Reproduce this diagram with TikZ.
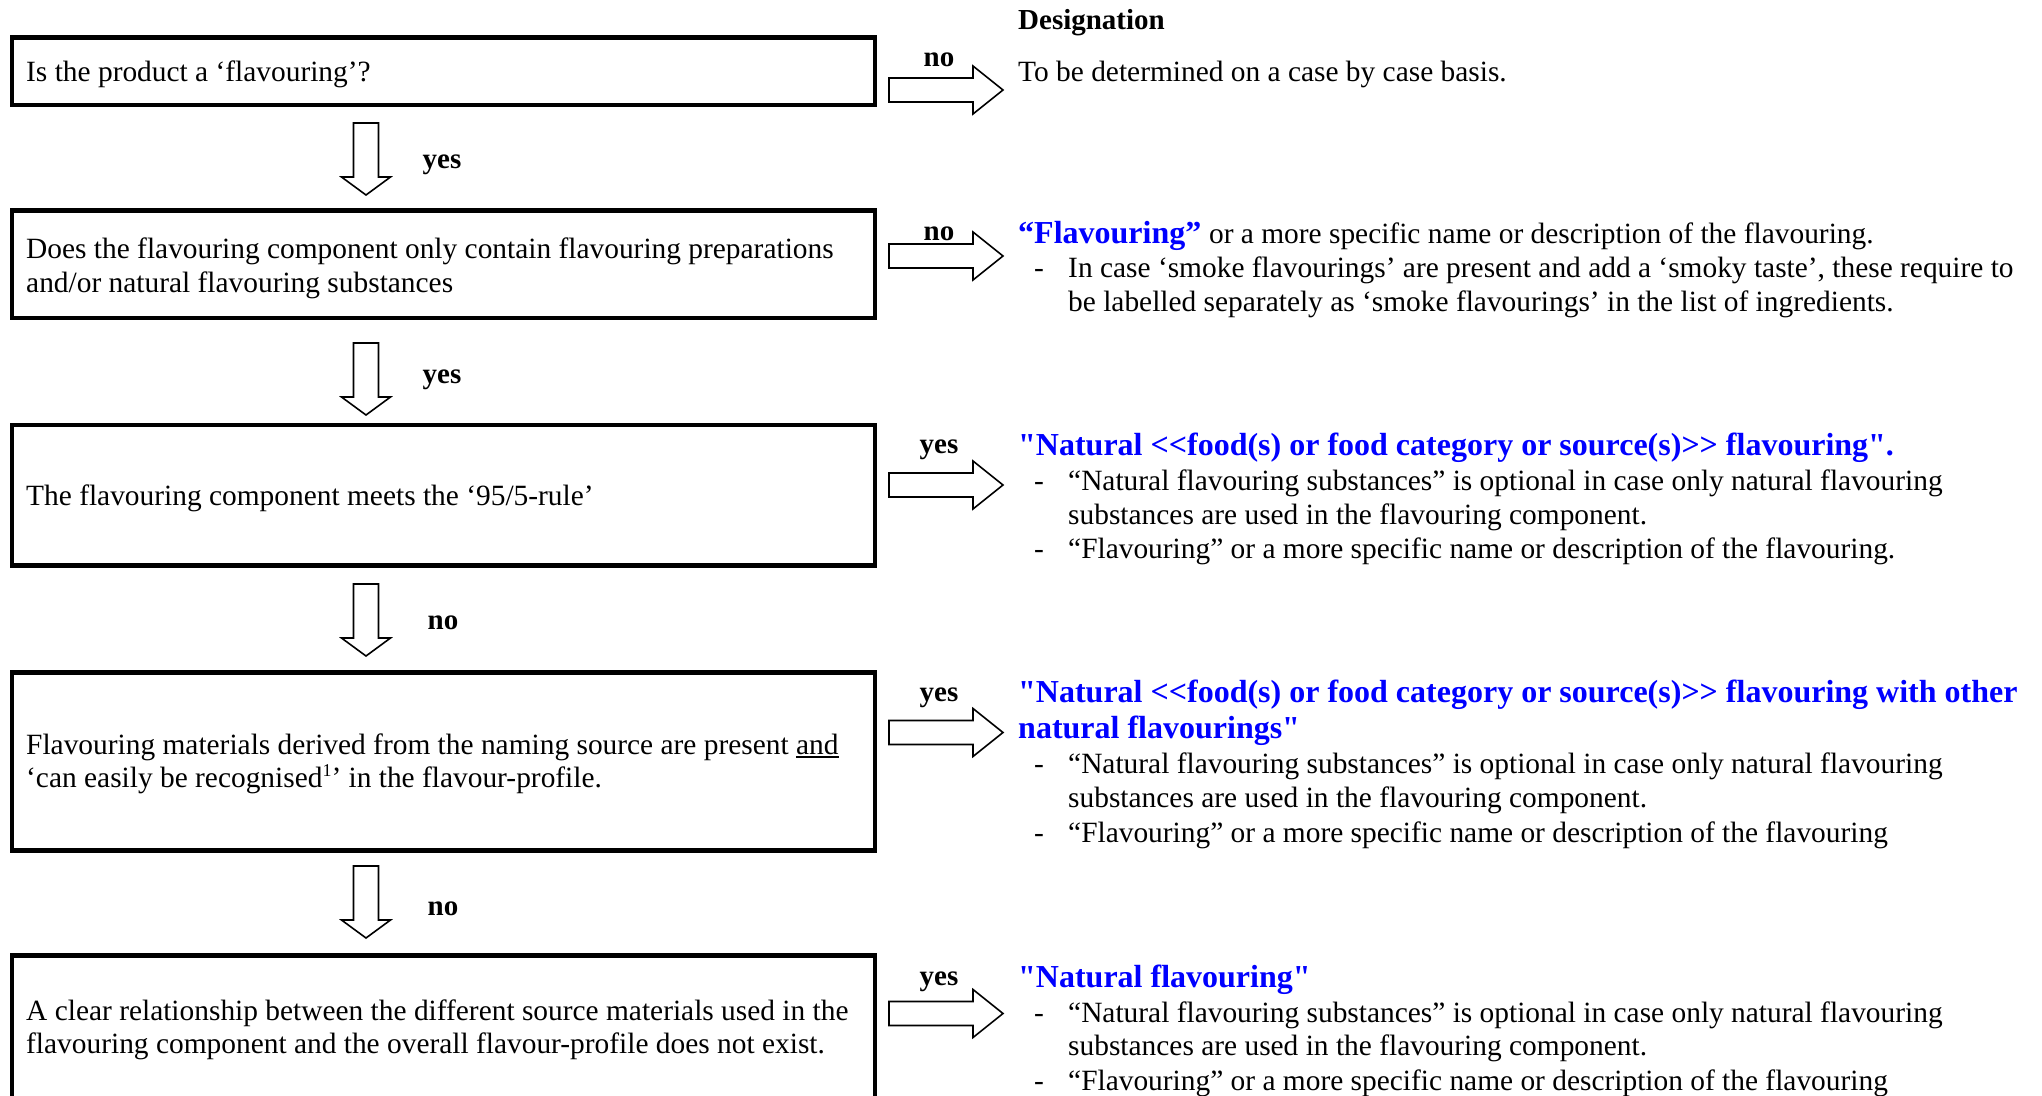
\documentclass[tikz,border=0pt]{standalone}
\font\bodyfont="Liberation Serif" at 29.4pt
\font\boldfont="Liberation Serif/B" at 29pt
\font\titlefont="Liberation Serif/B" at 32pt
\font\supfont="Liberation Serif" at 18pt
\newcommand\myul[1]{\setbox0\hbox{#1}\rlap{\rule[-4pt]{\wd0}{1.6pt}}\box0}
\newcommand\mysup[1]{\raisebox{11pt}{\supfont #1}}
\newcommand\myRArrow[1]{\draw[blockarrow] (#1) ++(0,-12) -- ++(84,0) -- ++(0,-12) -- ++(30,24) -- ++(-30,24) -- ++(0,-12) -- ++(-84,0) -- cycle;}
\newcommand\myDArrow[1]{\draw[blockarrow] (#1) ++(-12.5,0) -- ++(25,0) -- ++(0,54) -- ++(12,0) -- ++(-24.5,18) -- ++(-24.5,-18) -- ++(12,0) -- cycle;}
\begin{document}
\begin{tikzpicture}[x=1pt,y=-1pt,
  flowbox/.style={draw, line width=4.5pt, minimum width=863pt, inner sep=0pt},
  blockarrow/.style={draw, line width=1.6pt, fill=white, line join=miter},
  txt/.style={anchor=base west, inner sep=0pt, font=\bodyfont},
  bold/.style={anchor=base west, inner sep=0pt, font=\boldfont},
  ttl/.style={anchor=base west, inner sep=0pt, font=\titlefont, text=blue},
  lbl/.style={anchor=base, inner sep=0pt, font=\boldfont}]
\path[use as bounding box] (0,0) rectangle (2042,1095);
\clip (0,0) rectangle (2042,1095);
\fill[white] (0,0) rectangle (2042,1095);

% decision boxes
\node[flowbox, minimum height=67.5pt] (q1) at (443.5,71.25) {};
\node[flowbox, minimum height=107.5pt] (q2) at (443.5,264.25) {};
\node[flowbox, minimum height=140.5pt] (q3) at (443.5,495.25) {};
\node[flowbox, minimum height=178pt] (q4) at (443.5,761.5) {};
\node[flowbox, minimum height=170pt] (q5) at (443.5,1040.5) {};

% box texts
\node[txt] (t1) at (26,81) {Is the product a ‘flavouring’?};
\node[txt] (t2a) at (26,258) {Does the flavouring component only contain flavouring preparations};
\node[txt] (t2b) at (26,292) {and/or natural flavouring substances};
\node[txt] (t3) at (26,505) {The flavouring component meets the ‘95/5-rule’};
\node[txt] (t4a) at (26,754) {Flavouring materials derived from the naming source are present \myul{and}};
\node[txt] (t4b) at (26,787) {‘can easily be recognised\mysup{1}’ in the flavour-profile.};
\node[txt] (t5a) at (26,1020) {A clear relationship between the different source materials used in the};
\node[txt] (t5b) at (26,1053) {flavouring component and the overall flavour-profile does not exist.};

% down arrows
\coordinate (d1) at (366,123);
\coordinate (d2) at (366,343);
\coordinate (d3) at (366,584);
\coordinate (d4) at (366,866);
\myDArrow{d1}
\myDArrow{d2}
\myDArrow{d3}
\myDArrow{d4}
\node[lbl] (ly1) at (442,168) {yes};
\node[lbl] (ly2) at (442,383) {yes};
\node[lbl] (ln3) at (443,629) {no};
\node[lbl] (ln4) at (443,915) {no};

% right arrows
\coordinate (r1) at (889,90);
\coordinate (r2) at (889,256);
\coordinate (r3) at (889,485);
\coordinate (r4) at (889,732.5);
\coordinate (r5) at (889,1013.5);
\myRArrow{r1}
\myRArrow{r2}
\myRArrow{r3}
\myRArrow{r4}
\myRArrow{r5}
\node[lbl] (rl1) at (939,66) {no};
\node[lbl] (rl2) at (939,240) {no};
\node[lbl] (rl3) at (939,453) {yes};
\node[lbl] (rl4) at (939,701) {yes};
\node[lbl] (rl5) at (939,985) {yes};

% designation column
\node[bold] (hd) at (1018,29.5) {Designation};
\node[txt] (a1) at (1018,81) {To be determined on a case by case basis.};

\node[ttl] (a2t) at (1018,243) {“Flavouring”};
\node[txt] (a2r) at (a2t.base east) {\ or a more specific name or description of the flavouring.};
\node[txt] (a2d1) at (1034,277) {-};
\node[txt] (a2l1) at (1068,277) {In case ‘smoke flavourings’ are present and add a ‘smoky taste’, these require to};
\node[txt] (a2l2) at (1068,311) {be labelled separately as ‘smoke flavourings’ in the list of ingredients.};

\node[ttl] (a3t) at (1018,455) {"Natural <<food(s) or food category or source(s)>> flavouring".};
\node[txt] (a3d1) at (1034,490) {-};
\node[txt] (a3l1) at (1068,490) {“Natural flavouring substances” is optional in case only natural flavouring};
\node[txt] (a3l2) at (1068,524) {substances are used in the flavouring component.};
\node[txt] (a3d2) at (1034,558) {-};
\node[txt] (a3l3) at (1068,558) {“Flavouring” or a more specific name or description of the flavouring.};

\node[ttl] (a4t1) at (1018,702) {"Natural <<food(s) or food category or source(s)>> flavouring with other};
\node[ttl] (a4t2) at (1018,738) {natural flavourings"};
\node[txt] (a4d1) at (1034,773) {-};
\node[txt] (a4l1) at (1068,773) {“Natural flavouring substances” is optional in case only natural flavouring};
\node[txt] (a4l2) at (1068,807) {substances are used in the flavouring component.};
\node[txt] (a4d2) at (1034,842) {-};
\node[txt] (a4l3) at (1068,842) {“Flavouring” or a more specific name or description of the flavouring};

\node[ttl] (a5t) at (1018,987) {"Natural flavouring"};
\node[txt] (a5d1) at (1034,1022) {-};
\node[txt] (a5l1) at (1068,1022) {“Natural flavouring substances” is optional in case only natural flavouring};
\node[txt] (a5l2) at (1068,1055) {substances are used in the flavouring component.};
\node[txt] (a5d2) at (1034,1090) {-};
\node[txt] (a5l3) at (1068,1090) {“Flavouring” or a more specific name or description of the flavouring};
\end{tikzpicture}
\end{document}
